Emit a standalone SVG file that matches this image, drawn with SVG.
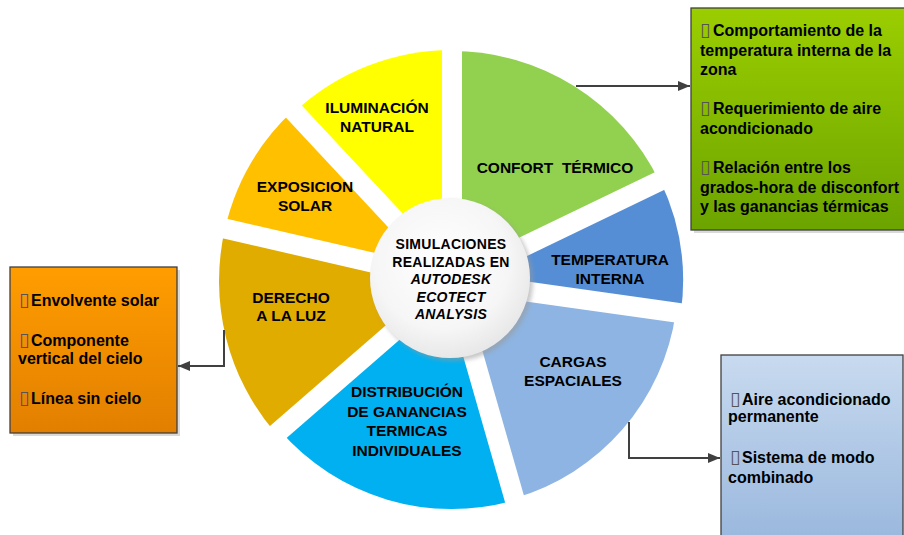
<svg xmlns="http://www.w3.org/2000/svg" width="904" height="535" viewBox="0 0 904 535">
<defs>
<style>
.lbl{font-family:"Liberation Sans",Arial,sans-serif;font-weight:bold;font-size:15.5px;fill:#000;text-anchor:middle}
.ctr{font-family:"Liberation Sans",Arial,sans-serif;font-weight:bold;font-size:14px;fill:#000;text-anchor:middle;letter-spacing:0.3px}
.box{font-family:"Liberation Sans",Arial,sans-serif;font-weight:bold;font-size:16px;fill:#000}
.bul{font-family:"DejaVu Sans",sans-serif;font-weight:normal;font-size:19px;fill:#555}
.gap{stroke:#fff;stroke-width:20;stroke-linecap:butt}
.con{fill:none;stroke:#404040;stroke-width:2}
.bx{stroke:#404040;stroke-width:1.3}
</style>
<linearGradient id="gG" x1="0" y1="0" x2="0" y2="1"><stop offset="0" stop-color="#9BCE00"/><stop offset="1" stop-color="#6CA400"/></linearGradient>
<linearGradient id="gO" x1="0" y1="0" x2="0" y2="1"><stop offset="0" stop-color="#FF9D00"/><stop offset="1" stop-color="#E27F00"/></linearGradient>
<linearGradient id="gB" x1="0" y1="0" x2="0" y2="1"><stop offset="0" stop-color="#C8DAEF"/><stop offset="1" stop-color="#96B5DC"/></linearGradient>
<radialGradient id="gC" cx="0.45" cy="0.4" r="0.6"><stop offset="0" stop-color="#FFFFFF"/><stop offset="0.7" stop-color="#F6F6F6"/><stop offset="1" stop-color="#E8E8E8"/></radialGradient>
<filter id="blur" x="-20%" y="-20%" width="140%" height="140%"><feGaussianBlur stdDeviation="2"/></filter>
<marker id="arr" viewBox="0 0 12 10" refX="12" refY="5" markerWidth="12" markerHeight="10" markerUnits="userSpaceOnUse" orient="auto"><path d="M0,0 L12,5 L0,10 Z" fill="#404040"/></marker>
</defs>
<rect width="904" height="535" fill="#fff"/>

<g id="ring">
<g id="seg-confort"><path d="M452,281 L452,51 A230,230 0 0 1 659.3,181.2 Z" fill="#92D050"/></g>
<g id="seg-temperatura"><path d="M452,281 L660.2,180.8 A231,231 0 0 1 680.8,313.2 Z" fill="#558ED5"/></g>
<g id="seg-cargas"><path d="M452,281 L675.8,312.5 A226,226 0 0 1 514.3,498.3 Z" fill="#8DB4E2"/></g>
<g id="seg-distribucion"><path d="M452,281 L514.8,500.2 A228,228 0 0 1 279.9,430.6 Z" fill="#00B0F0"/></g>
<g id="seg-derecho"><path d="M452,281 L276.2,433.9 A233,233 0 0 1 225,228.6 Z" fill="#E0AC00"/></g>
<g id="seg-exposicion"><path d="M452,281 L225,228.6 A233,233 0 0 1 293.1,110.6 Z" fill="#FFC000"/></g>
<g id="seg-iluminacion"><path d="M452,281 L294.5,112 A231,231 0 0 1 452,50 Z" fill="#FFFF00"/></g>
<g id="gaps">
<line class="gap" x1="452" y1="281" x2="452" y2="31"/>
<line class="gap" x1="452" y1="281" x2="677.3" y2="172.6"/>
<line class="gap" x1="452" y1="281" x2="699.6" y2="315.8"/>
<line class="gap" x1="452" y1="281" x2="520.9" y2="521.3"/>
<line class="gap" x1="452" y1="281" x2="263.3" y2="445"/>
<line class="gap" x1="452" y1="281" x2="208.4" y2="224.7"/>
<line class="gap" x1="452" y1="281" x2="281.5" y2="98.2"/>
</g>
</g>

<g id="ring-labels">
<text class="lbl" x="377" y="113">ILUMINACIÓN</text>
<text class="lbl" x="377" y="132">NATURAL</text>
<text class="lbl" x="305" y="192">EXPOSICION</text>
<text class="lbl" x="305" y="211">SOLAR</text>
<text class="lbl" x="555" y="173" xml:space="preserve">CONFORT  TÉRMICO</text>
<text class="lbl" x="610" y="265">TEMPERATURA</text>
<text class="lbl" x="610" y="284">INTERNA</text>
<text class="lbl" x="291" y="303">DERECHO</text>
<text class="lbl" x="291" y="321">A LA LUZ</text>
<text class="lbl" x="573" y="367">CARGAS</text>
<text class="lbl" x="573" y="386">ESPACIALES</text>
<text class="lbl" x="407" y="397">DISTRIBUCIÓN</text>
<text class="lbl" x="407" y="416.5">DE GANANCIAS</text>
<text class="lbl" x="407" y="436">TERMICAS</text>
<text class="lbl" x="407" y="455.5">INDIVIDUALES</text>
</g>

<g id="center">
<circle cx="453" cy="281" r="80" fill="#9A9A9A" opacity="0.55" filter="url(#blur)"/>
<circle cx="450" cy="278" r="80" fill="url(#gC)"/>
<text class="ctr" x="451" y="249">SIMULACIONES</text>
<text class="ctr" x="451" y="266.5">REALIZADAS EN</text>
<text class="ctr" x="451" y="284" font-style="italic">AUTODESK</text>
<text class="ctr" x="451" y="301.5" font-style="italic">ECOTECT</text>
<text class="ctr" x="451" y="319" font-style="italic">ANALYSIS</text>
</g>

<g id="box-confort">
<rect x="694" y="11" width="220" height="222" fill="#000" opacity="0.15"/>
<rect class="bx" x="691" y="8" width="220" height="222" fill="url(#gG)"/>
<text class="box" x="700" y="36"><tspan class="bul">▯</tspan><tspan x="713">Comportamiento de la</tspan></text>
<text class="box" x="700" y="55.5">temperatura interna de la</text>
<text class="box" x="700" y="75">zona</text>
<text class="box" x="700" y="114"><tspan class="bul">▯</tspan><tspan x="713">Requerimiento de aire</tspan></text>
<text class="box" x="700" y="133.5">acondicionado</text>
<text class="box" x="700" y="173"><tspan class="bul">▯</tspan><tspan x="713">Relación entre los</tspan></text>
<text class="box" x="700" y="192.5">grados-hora de disconfort</text>
<text class="box" x="700" y="212">y las ganancias térmicas</text>
</g>

<g id="box-derecho">
<rect x="13" y="270" width="167" height="166" fill="#000" opacity="0.15"/>
<rect class="bx" x="10" y="267" width="167" height="166" fill="url(#gO)"/>
<text class="box" x="19" y="305.5"><tspan class="bul">▯</tspan><tspan x="31">Envolvente solar</tspan></text>
<text class="box" x="19" y="346"><tspan class="bul">▯</tspan><tspan x="31">Componente</tspan></text>
<text class="box" x="18" y="364">vertical del cielo</text>
<text class="box" x="19" y="404"><tspan class="bul">▯</tspan><tspan x="31">Línea sin cielo</tspan></text>
</g>

<g id="box-cargas">
<rect class="bx" x="721" y="355" width="182" height="200" fill="url(#gB)" stroke="#595959"/>
<text class="box" x="730" y="405"><tspan class="bul">▯</tspan><tspan x="742">Aire acondicionado</tspan></text>
<text class="box" x="728" y="422">permanente</text>
<text class="box" x="730" y="463"><tspan class="bul">▯</tspan><tspan x="742">Sistema de modo</tspan></text>
<text class="box" x="728" y="483">combinado</text>
</g>

<g id="connectors">
<path class="con" d="M576,86 L690,86" marker-end="url(#arr)"/>
<path class="con" d="M224,330 L224,366 L178,366" marker-end="url(#arr)"/>
<path class="con" d="M629,422 L629,458 L720,458" marker-end="url(#arr)"/>
</g>
</svg>
